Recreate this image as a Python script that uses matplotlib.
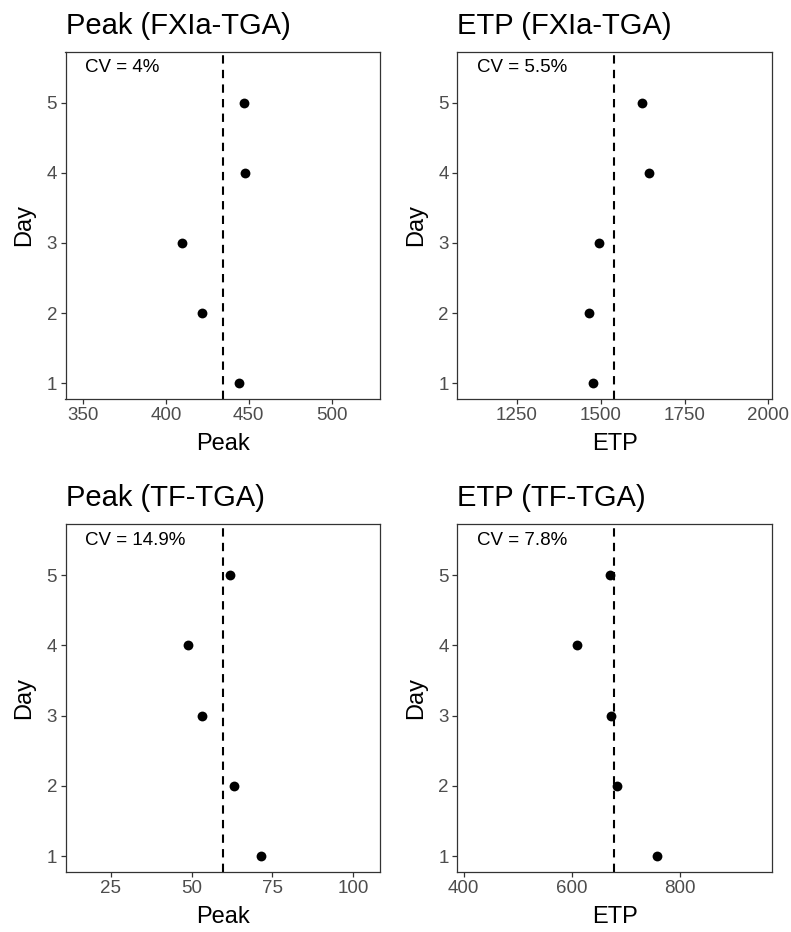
import numpy as np
import matplotlib.pyplot as plt
from matplotlib import transforms

plt.rcParams['font.family'] = ['Liberation Sans', 'DejaVu Sans']

# datos
dias = [1, 2, 3, 4, 5]
peak_fxia = [444.2, 421.9, 409.8, 447.8, 447.4]
etp_fxia = [1477, 1465, 1496, 1645, 1622]
peak_tf = [71.5, 63.2, 53.1, 48.9, 61.9]
etp_tf = [757.9, 683.6, 672.0, 608.7, 670.8]

titulos = ["Peak (FXIa-TGA)", "ETP (FXIa-TGA)", "Peak (TF-TGA)", "ETP (TF-TGA)"]
etiquetas_x = ["Peak", "ETP", "Peak", "ETP"]
cv_textos = ["CV = 4%", "CV = 5.5%", "CV = 14.9%", "CV = 7.8%"]
limites_x = [(339.5, 529.1), (1072, 2011), (10.9, 108.4), (388.2, 970)]
ticks_x = [[350, 400, 450, 500], [1250, 1500, 1750, 2000], [25, 50, 75, 100], [400, 600, 800]]
series = [peak_fxia, etp_fxia, peak_tf, etp_tf]

W, H = 791, 932
fig = plt.figure(figsize=(W / 100, H / 100), dpi=100)

# cajas de ejes en pixeles (izq, der, arriba, abajo)
cajas = [(65.5, 380, 51.7, 399), (457.3, 772, 51.7, 399),
         (65.5, 380, 524.3, 872), (457.3, 772, 524.3, 872)]

gris = '#333333'
for i in range(4):
    l, r, t, b = cajas[i]
    ax = fig.add_axes([l / W, 1 - b / H, (r - l) / W, (b - t) / H])
    valores = series[i]
    media = np.mean(valores)

    # linea discontinua en la media
    ax.axvline(media, color='black', lw=1.5, linestyle=(0, (4, 3)), zorder=1)
    ax.scatter(valores, dias, s=50, color='black', zorder=3, linewidths=0)

    ax.set_xlim(*limites_x[i])
    ax.set_ylim(0.775, 5.725)
    ax.set_xticks(ticks_x[i])
    ax.set_yticks(dias)

    for sp in ax.spines.values():
        sp.set_color(gris)
        sp.set_linewidth(0.9)
    ax.tick_params(axis='both', length=3.6, width=0.9, color=gris,
                   labelcolor='#4D4D4D', labelsize=13.5, pad=2.5)

    ax.set_xlabel(etiquetas_x[i], fontsize=17, labelpad=6)
    ax.set_ylabel("Day", fontsize=17, labelpad=8)
    ax.set_title(titulos[i], loc='left', fontsize=21, pad=13)

    trans = transforms.blended_transform_factory(ax.transAxes, ax.transData)
    ax.text(0.062, 5.5, cv_textos[i], transform=trans, ha='left', va='center',
            fontsize=13.5, color='black')

fig.savefig("out.png", dpi=100)
